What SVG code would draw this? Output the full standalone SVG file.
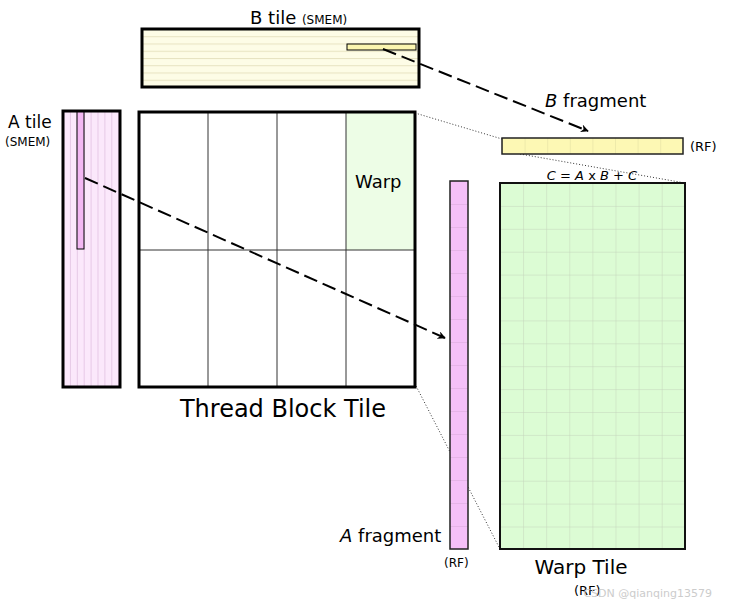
<svg xmlns="http://www.w3.org/2000/svg" width="732" height="605" viewBox="0 0 732 605">
<defs>
<style>
text{font-family:"DejaVu Sans",sans-serif;fill:#000}
.thick{fill:none;stroke:#000;stroke-width:3}
.dash{stroke:#000;stroke-width:2;stroke-dasharray:14,6;fill:none}
.dot{stroke:#333;stroke-width:1;stroke-dasharray:1,2;fill:none}
</style>
<marker id="ah" viewBox="0 0 10 10" refX="9" refY="5" markerWidth="8" markerHeight="8" orient="auto" markerUnits="userSpaceOnUse">
<path d="M0,0 L10,5 L0,10 L3,5 z" fill="#000"/>
</marker>
<pattern id="hl" width="10" height="7.25" patternUnits="userSpaceOnUse" y="29"><line x1="0" y1="0.5" x2="10" y2="0.5" stroke="#e6e2c0" stroke-width="1"/></pattern>
<pattern id="vl" width="6.9" height="10" patternUnits="userSpaceOnUse" x="63"><line x1="0.5" y1="0" x2="0.5" y2="10" stroke="#e6c8e6" stroke-width="1"/></pattern>
<pattern id="wg" width="23.1" height="22.9" patternUnits="userSpaceOnUse" x="500" y="183"><path d="M0,0 H23.1 M0,0 V22.9" stroke="#c4d4bc" stroke-width="1" fill="none"/></pattern>
<pattern id="ag" width="18" height="23" patternUnits="userSpaceOnUse" x="450" y="181"><line x1="0" y1="0" x2="18" y2="0" stroke="#d8a8d8" stroke-width="1"/></pattern>
<pattern id="bg" width="22.6" height="16" patternUnits="userSpaceOnUse" x="502" y="138"><line x1="0" y1="0" x2="0" y2="16" stroke="#e0dca0" stroke-width="1"/></pattern>
</defs>
<g id="connectors-dotted">
<path class="dot" d="M415,113 L502,139"/>
<path class="dot" d="M520,154 L685,183"/>
<path class="dot" d="M346,250 L500,549"/>
</g>
<g id="b-tile">
<rect x="142" y="29" width="277" height="58" fill="#fdfce6"/>
<rect x="142" y="29" width="277" height="58" fill="url(#hl)"/>
<rect x="142" y="29" width="277" height="58" class="thick"/>
<rect x="347" y="44" width="69" height="6" fill="#fbf6b0" stroke="#000" stroke-width="1"/>
<text x="250" y="24" font-size="18">B tile <tspan font-size="12">(SMEM)</tspan></text>
</g>
<g id="a-tile">
<rect x="63" y="111" width="57" height="276" fill="#fbe8fb"/>
<rect x="63" y="111" width="57" height="276" fill="url(#vl)"/>
<rect x="63" y="111" width="57" height="276" class="thick"/>
<rect x="77" y="112" width="7" height="137" fill="#f3b8f3" stroke="#000" stroke-width="1"/>
<text x="8" y="128" font-size="17">A tile</text>
<text x="5" y="146" font-size="12">(SMEM)</text>
</g>
<g id="thread-block">
<rect x="139" y="112" width="276" height="275" fill="#fff"/>
<rect x="346" y="112" width="69" height="138" fill="#edfde6"/>
<path d="M208,112 V387 M277,112 V387 M346,112 V387 M139,250 H415" stroke="#333" stroke-width="1"/>
<rect x="139" y="112" width="276" height="275" class="thick"/>
<text x="355" y="188" font-size="18">Warp</text>
<text x="283" y="417" font-size="24" text-anchor="middle">Thread Block Tile</text>
</g>
<g id="b-fragment">
<rect x="502" y="138" width="181" height="16" fill="#fdf8b4"/>
<rect x="502" y="138" width="181" height="16" fill="url(#bg)"/>
<rect x="502" y="138" width="181" height="16" fill="none" stroke="#222" stroke-width="1.5"/>
<text x="545" y="107" font-size="18"><tspan font-style="italic">B</tspan> fragment</text>
<text x="690" y="151" font-size="13">(RF)</text>
</g>
<g id="a-fragment">
<rect x="450" y="181" width="18" height="368" fill="#f5c0f8"/>
<rect x="450" y="181" width="18" height="368" fill="url(#ag)"/>
<rect x="450" y="181" width="18" height="368" fill="none" stroke="#222" stroke-width="1.5"/>
<text x="340" y="542" font-size="18"><tspan font-style="italic">A</tspan> fragment</text>
<text x="444" y="567" font-size="12">(RF)</text>
</g>
<g id="warp-tile">
<rect x="500" y="183" width="185" height="366" fill="#dcfcd4"/>
<rect x="500" y="183" width="185" height="366" fill="url(#wg)"/>
<rect x="500" y="183" width="185" height="366" fill="none" stroke="#111" stroke-width="2"/>
<text x="592" y="180" font-size="13" text-anchor="middle"><tspan font-style="italic">C</tspan> = <tspan font-style="italic">A</tspan> x <tspan font-style="italic">B</tspan> + <tspan font-style="italic">C</tspan></text>
<text x="581" y="574" font-size="20" text-anchor="middle">Warp Tile</text>
<text x="574" y="595" font-size="13">(RF)</text>
</g>
<g id="connectors">
<path class="dash" d="M383,49 L588,131" marker-end="url(#ah)"/>
<path class="dash" d="M85,178 L445,338" marker-end="url(#ah)"/>
</g>
<text x="712" y="597" font-size="11" text-anchor="end" style="fill:#cccccc">CSDN @qianqing13579</text>
</svg>
